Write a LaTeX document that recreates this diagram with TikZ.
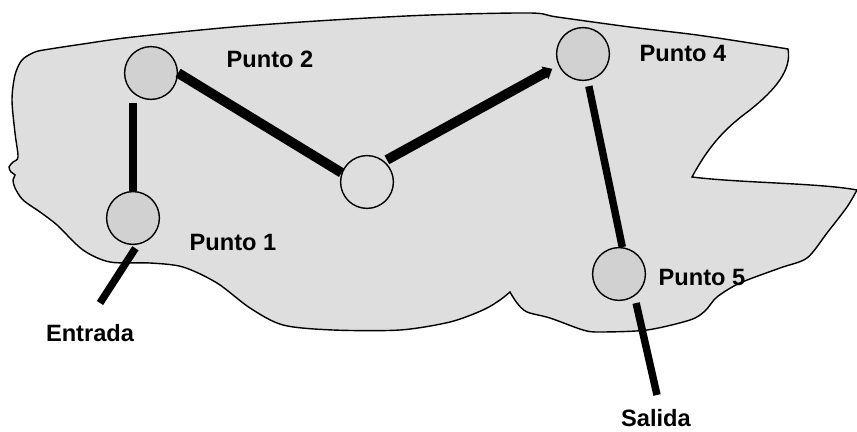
\documentclass[tikz,border=0pt]{standalone}
\usepackage{fontspec}
\setmainfont{Liberation Sans}
\usetikzlibrary{arrows.meta, positioning}

\begin{document}
\begin{tikzpicture}[x=0.025cm,y=-0.025cm,
         main node/.style={circle,draw,fill=black!18,line width=1pt,inner sep=0pt,minimum size=1.32cm},
         tag/.style={font=\fontsize{16.8}{19}\selectfont\bfseries,inner sep=0pt},
         thick link/.style={line width=7pt},
         thin link/.style={line width=5.3pt}] %px-like units, y goes down

       \useasboundingbox (0,0) rectangle (857,432);

       % the zone
       \draw[fill=black!13,line width=1pt]
         (788,49) .. controls (792,70) and (775,90) .. (750,110)
         .. controls (730,125) and (712,140) .. (692,177)
         .. controls (740,183) and (820,183) .. (857,190)
         -- plot[smooth,tension=0.5] coordinates {(857,190) (847,207) (827,233) (807,258) (780,268) (740,283) (717,297) (705,311) (690,320) (647,330) (600,332) (583,330) (550,318) (527,312) (517,303) (510,292)}
         -- plot[smooth,tension=0.5] coordinates {(510,292) (500,300) (483,310) (450,322) (400,330) (333,330) (283,325) (250,308) (217,283) (183,267) (150,263) (110,262) (83,250) (57,225) (40,212) (23,200) (15,188) (13,180) (15,175) (11,172) (9,167) (13,162) (18,157) (15,133) (12,100) (15,75) (22,60) (35,52) (50,49) (83,44) (133,37) (233,27) (333,20) (430,15) (530,13) (557,17) (630,27) (697,35) (763,45) (788,49)}
         -- cycle;

       \node[main node] (1) at (133,218) {};
       \node[main node] (2) at (151,73) {};
       \node[main node,fill=black!13] (3) at (367,182) {};
       \node[main node] (4) at (583,54) {};
       \node[main node] (5) at (619,274) {};

       \coordinate (in) at (100,303);
       \coordinate (out) at (657,395);

       \draw[thin link,shorten <=2pt] (1.north |- 2.south) -- (1.north);
       \draw[thick link] (2.east) -- (3.160);
       \draw[thick link,shorten <=2pt,shorten >=5pt,-{Triangle[length=6pt,width=10pt]}] (3.50) -- (4.205);
       \draw[thin link,shorten <=4pt] (4.-80) -- (5.83);
       \draw[thin link,shorten <=3pt] (1.-80) -- (in);
       \draw[thin link,shorten <=5pt] (5.-55) -- (out);

       \foreach \n/\x/\y/\t in {l1/233/242/Punto 1, l2/270/59/Punto 2, l4/683/53/Punto 4, l5/702/277/Punto 5, lin/90/333/Entrada, lout/656/418/Salida} {
        \node[tag] (\n) at (\x,\y) {\t};}
      \end{tikzpicture}
\end{document}
